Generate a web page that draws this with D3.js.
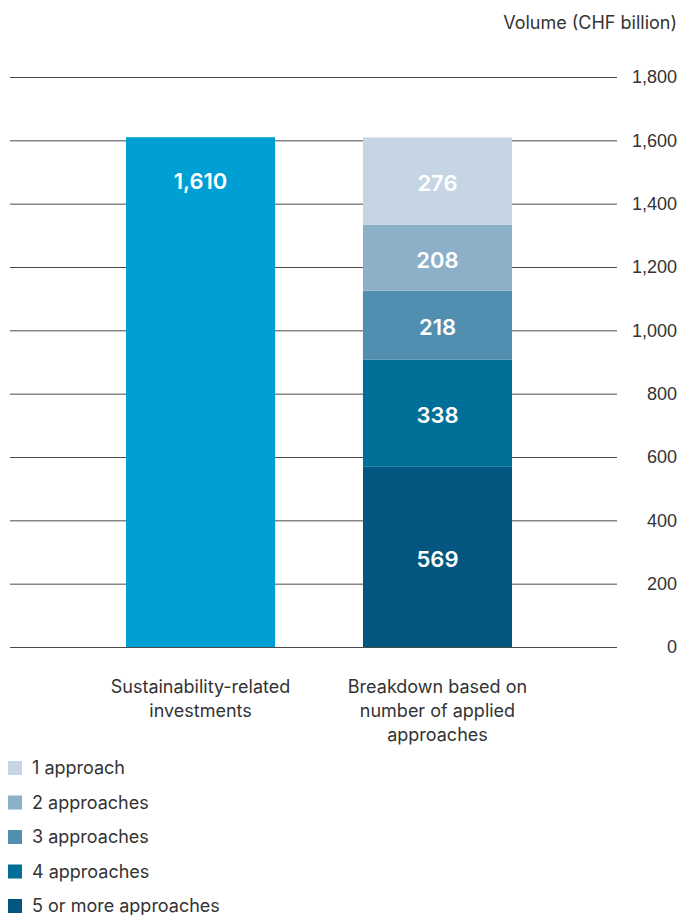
<!DOCTYPE html>
<html>
<head>
<meta charset="utf-8">
<script src="https://cdn.jsdelivr.net/npm/d3@7"></script>
<style>
  body { margin: 0; background: #fff; }
  svg { display: block; font-family: Inter, "Noto Sans", sans-serif; }
</style>
</head>
<body>
<svg id="chart" width="678" height="915"></svg>
<script>
const categories = ["Sustainability-related investments", "Breakdown based on number of applied approaches"]
const categoryLines = [["Sustainability-related", "investments"], ["Breakdown based on", "number of applied", "approaches"]]
const totalValue = 1610
const approachNames = ["1 approach", "2 approaches", "3 approaches", "4 approaches", "5 or more approaches"]
const approachValues = [276, 208, 218, 338, 569]
const yTicks = [0, 200, 400, 600, 800, 1000, 1200, 1400, 1600, 1800]

const approachColors = ["#c5d5e4", "#8cb0c8", "#528eb0", "#006f98", "#02567f"]
const totalColor = "#009fd3"

const svg = d3.select("#chart")

const y = d3.scaleLinear().domain([0, 1800]).range([647, 77])
const x = d3.scaleBand().domain(categories).range([126, 512]).paddingInner(0.371).paddingOuter(0)

// grid lines + tick labels on the right
const axis = d3.axisRight(y).tickValues(yTicks).tickSize(607).tickFormat(d3.format(","))
const gAxis = svg.append("g").attr("transform", "translate(10,0)").call(axis)
gAxis.select(".domain").remove()
gAxis.selectAll(".tick line").attr("stroke", "#4a4a4a").attr("stroke-width", 1)
gAxis.selectAll(".tick text")
    .attr("x", 667).attr("text-anchor", "end")
    .attr("font-size", 18).attr("fill", "#333").attr("font-family", null)

svg.append("text")
    .attr("x", 677).attr("y", 29)
    .attr("text-anchor", "end").attr("font-size", 18).attr("fill", "#333")
    .text("Volume (CHF billion)")

// total bar
svg.append("rect")
    .attr("x", x(categories[0])).attr("width", x.bandwidth())
    .attr("y", y(totalValue)).attr("height", y(0) - y(totalValue))
    .attr("fill", totalColor)

svg.append("text")
    .attr("x", x(categories[0]) + x.bandwidth() / 2).attr("y", y(totalValue) + 44)
    .attr("dy", "0.36em")
    .attr("text-anchor", "middle").attr("font-size", 22).attr("font-weight", 600).attr("fill", "#fff")
    .text(d3.format(",")(totalValue))

// stacked bar
const stack = []
let acc = 0
for (let i = approachValues.length - 1; i >= 0; i--) {
    stack.push({ name: approachNames[i], value: approachValues[i], color: approachColors[i], y0: acc, y1: acc + approachValues[i] })
    acc += approachValues[i]
}

const gStack = svg.append("g")
gStack.selectAll("rect").data(stack).join("rect")
    .attr("x", x(categories[1])).attr("width", x.bandwidth())
    .attr("y", d => y(d.y1)).attr("height", d => y(d.y0) - y(d.y1))
    .attr("fill", d => d.color)

gStack.selectAll("text").data(stack).join("text")
    .attr("x", x(categories[1]) + x.bandwidth() / 2)
    .attr("y", d => (y(d.y0) + y(d.y1)) / 2 + 2)
    .attr("dy", "0.36em")
    .attr("text-anchor", "middle").attr("font-size", 22).attr("font-weight", 600).attr("fill", "#fff")
    .text(d => d.value)

// category labels
categories.forEach((cat, i) => {
    const t = svg.append("text")
        .attr("text-anchor", "middle").attr("font-size", 18).attr("fill", "#333")
    categoryLines[i].forEach((line, j) => {
        t.append("tspan")
            .attr("x", x(cat) + x.bandwidth() / 2)
            .attr("y", 693 + j * 24)
            .text(line)
    })
})

// legend
const legend = svg.append("g").selectAll("g").data(approachNames).join("g")
    .attr("transform", (d, i) => `translate(8,${761 + i * 34.5})`)
legend.append("rect").attr("width", 14).attr("height", 14).attr("fill", (d, i) => approachColors[i])
legend.append("text").attr("x", 24).attr("y", 13)
    .attr("font-size", 18).attr("fill", "#333").text(d => d)
</script>
</body>
</html>
